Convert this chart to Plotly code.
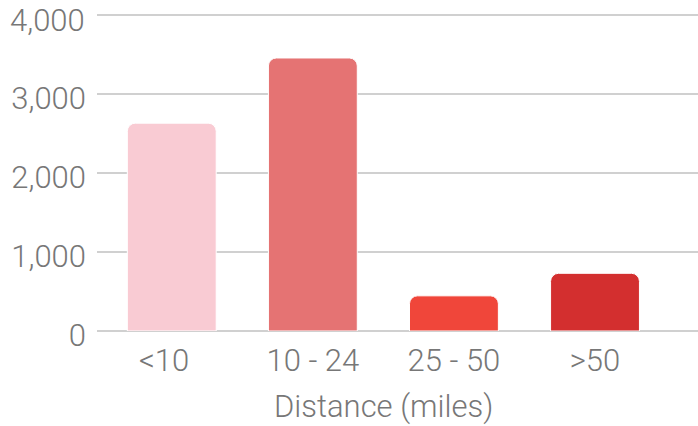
import plotly.graph_objects as go

# distance buckets and counts
categories = ["<10", "10 - 24", "25 - 50", ">50"]
counts = [2630, 3455, 445, 730]
bar_colors = ["#f9cbd3", "#e57373", "#f0463a", "#d32f2f"]
y_ticks = [0, 1000, 2000, 3000, 4000]
y_tick_text = ["0", "1,000", "2,000", "3,000", "4,000"]
x_title = "Distance (miles)"

font_family = "Roboto, sans-serif"
grey = "#777777"
label_font = dict(family=font_family, size=31, color=grey, weight=300)

fig = go.Figure()
fig.add_trace(go.Bar(
    x=list(range(len(categories))),
    y=counts,
    marker=dict(color=bar_colors, cornerradius=8, line=dict(color="white", width=1)),
    width=0.63,
    hoverinfo="y",
))

# first category label sits a little left of its bar in the original
x_tickvals = [-0.055] + list(range(1, len(categories)))

fig.update_layout(
    width=698,
    height=426,
    margin=dict(l=97, r=0, t=7, b=95),
    plot_bgcolor="white",
    paper_bgcolor="white",
    showlegend=False,
    font=dict(family=font_family, color=grey, weight=300),
    xaxis=dict(
        tickmode="array",
        tickvals=x_tickvals,
        ticktext=categories,
        range=[-0.53, 3.73],
        showgrid=False,
        zeroline=False,
        showline=False,
        ticks="",
        automargin=False,
        ticklabelstandoff=8,
        tickfont=label_font,
    ),
    yaxis=dict(
        range=[0, 4100],
        tickmode="array",
        tickvals=y_ticks,
        # top label is drawn separately (nudged down so it stays on the canvas)
        ticktext=y_tick_text[:-1] + [""],
        showgrid=True,
        gridcolor="#d0d0d0",
        gridwidth=1.5,
        zeroline=True,
        zerolinecolor="#d0d0d0",
        zerolinewidth=1.5,
        showline=False,
        ticks="",
        automargin=False,
        ticklabeloverflow="allow",
        ticklabelstandoff=10,
        ticklabelshift=4,
        tickfont=label_font,
    ),
)

fig.add_annotation(
    text=y_tick_text[-1], xref="paper", x=0, xanchor="right", xshift=-10,
    yref="y", y=y_ticks[-1], yanchor="middle", yshift=-6,
    showarrow=False, font=label_font,
)

# axis title centred under the category block
fig.add_annotation(
    text=x_title, xref="x", x=1.5, xanchor="center",
    yref="paper", y=0, yanchor="middle", yshift=-75,
    showarrow=False, font=label_font,
)

# drop the default page margin so the figure sits at the window origin
fig.write_html("out.html", config={"displayModeBar": False},
               post_script="document.body.style.margin='0';")
